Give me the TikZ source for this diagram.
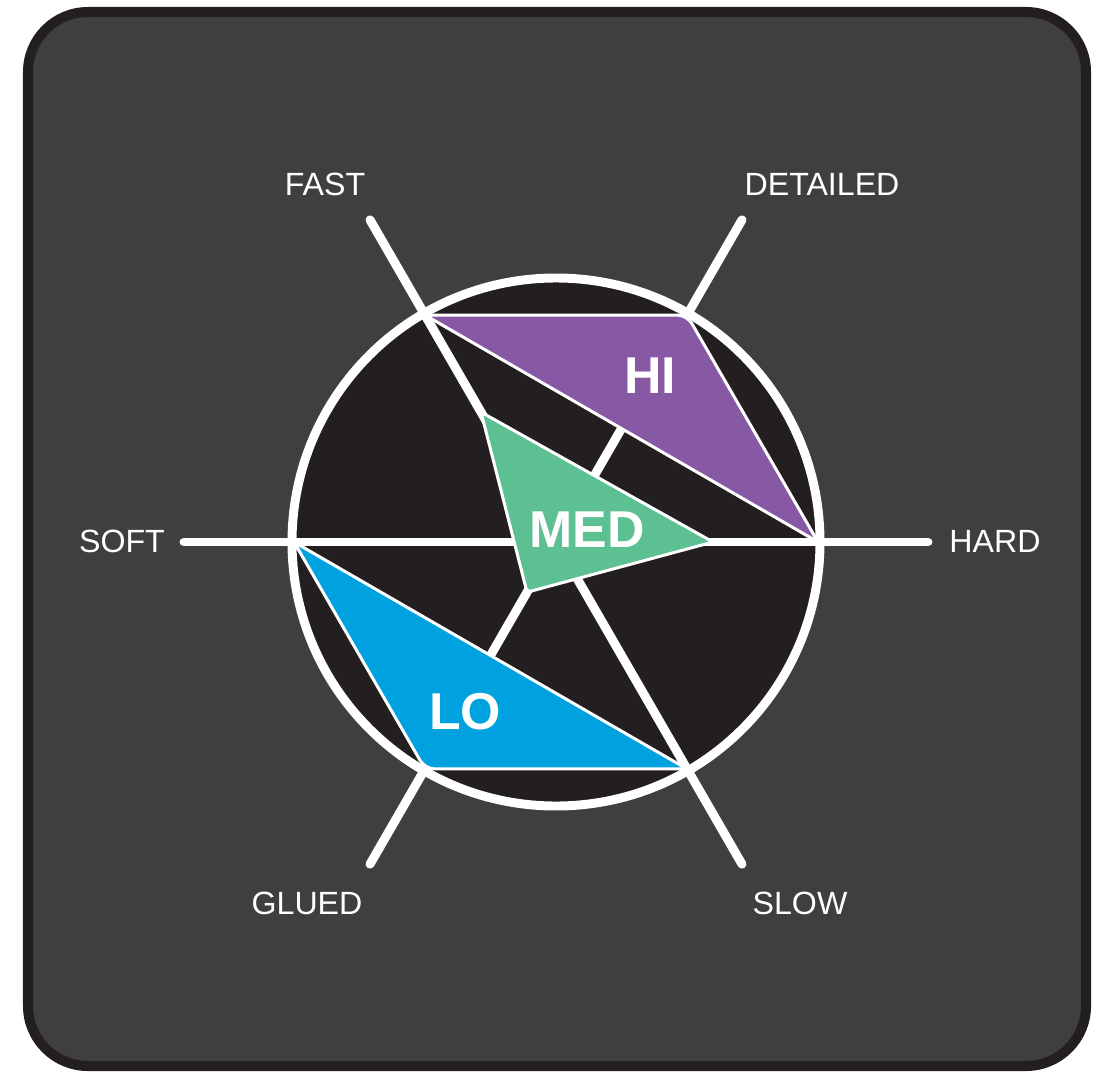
\documentclass[tikz,border=0pt]{standalone}
\usepackage{fontspec}
\setmainfont{Liberation Sans}
\usepackage{tikz}
\usetikzlibrary{calc}
\definecolor{panelgray}{RGB}{63,63,63}
\definecolor{inkblack}{RGB}{35,31,32}
\definecolor{hipurple}{RGB}{135,89,164}
\definecolor{medgreen}{RGB}{92,192,146}
\definecolor{loblue}{RGB}{0,161,223}
\tikzset{
  spoke/.style={
    white,
    line width=5.1pt,
    line cap=round
  },
  wedge/.style={
    draw=white,
    line width=1.7pt,
    line join=miter
  },
  axislabel/.style={
    text=white,
    inner sep=0pt,
    font=\fontsize{18.3}{20}\selectfont
  },
  levellabel/.style={
    text=white,
    inner sep=0pt,
    font=\bfseries\fontsize{29.5}{32}\selectfont
  }
}

\begin{document}
\begin{tikzpicture}[x=0.02cm,y=0.02cm]
\useasboundingbox (0,0) rectangle (1097,1073);
\draw[inkblack,fill=panelgray,line width=5.7pt,rounded corners=1.2cm] (28,7) rectangle (1086,1061);
\coordinate (c) at (556,531);
\fill[inkblack] (c) circle (264);
\foreach \a in {60,240}
  \draw[spoke] (c) -- ($(c)+(\a:372)$);
\draw[wedge,fill=hipurple] ($(c)+(120:262)$) [rounded corners=5.5pt] -- ($(c)+(60:262)$) [sharp corners] -- ($(c)+(0:262)$) -- cycle;
\draw[wedge,fill=loblue] ($(c)+(300:262)$) [rounded corners=5.5pt] -- ($(c)+(240:262)$) [sharp corners] -- ($(c)+(180:262)$) -- cycle;
\foreach \a in {0,120,180,300}
  \draw[spoke] (c) -- ($(c)+(\a:372)$);
\draw[white,line width=5.1pt] (c) circle (264);
\draw[wedge,fill=medgreen,rounded corners=2.3pt] ($(c)+(120:150)$) -- ($(c)+(0:157)$) -- ($(c)+(240:58)$) -- cycle;
\node[levellabel] (hi) at (650,697) {HI};
\node[levellabel] (med) at (587,543) {MED};
\node[levellabel] (lo) at (465,361) {LO};
\node[axislabel] (fast) at (325,889) {FAST};
\node[axislabel] (detailed) at (822,889) {DETAILED};
\node[axislabel] (soft) at (122,532) {SOFT};
\node[axislabel] (hard) at (995,532) {HARD};
\node[axislabel] (glued) at (307,170) {GLUED};
\node[axislabel] (slow) at (800,170) {SLOW};
\end{tikzpicture}
\end{document}
